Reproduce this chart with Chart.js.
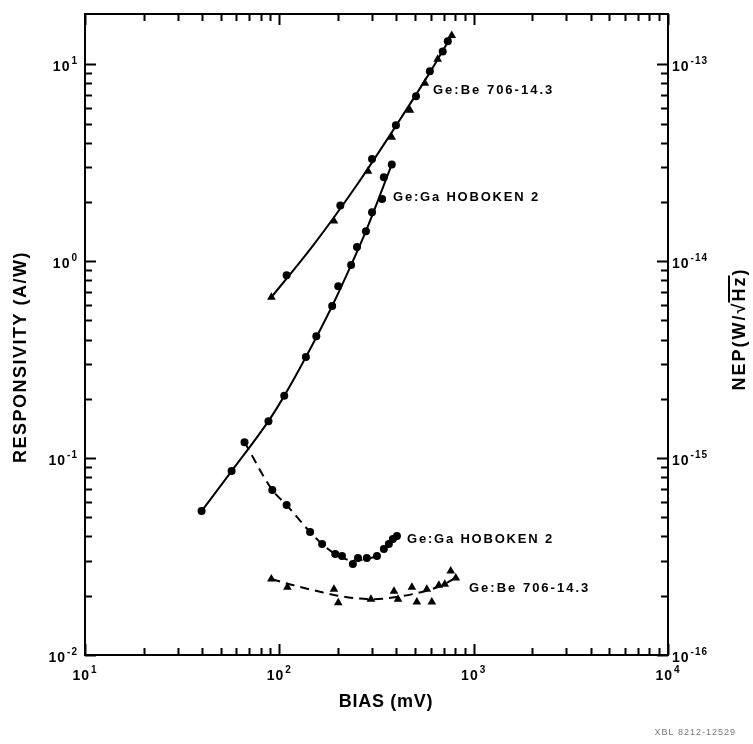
<!DOCTYPE html>
<html>
<head>
<meta charset="utf-8">
<script src="https://cdn.jsdelivr.net/npm/chart.js@4.4.1/dist/chart.umd.min.js"></script>
<style>
  html, body { margin: 0; padding: 0; background: #fff; }
  canvas { display: block; }
</style>
</head>
<body>
<canvas id="biasChart" width="753" height="744"></canvas>
<script>
// Ge:Be 706-14.3, responsivity (A/W): measured points and the solid curve
const biasGeBeResp = [91, 109, 191, 206, 286, 300, 379, 398, 470, 505, 561, 595, 653, 693, 736, 771];
const respGeBe = [0.656, 0.849, 1.60, 1.92, 2.86, 3.30, 4.26, 4.90, 5.84, 6.88, 8.01, 9.21, 10.6, 11.6, 13.1, 14.0];
const markGeBeResp = ['triangle', 'circle', 'triangle', 'circle', 'triangle', 'circle', 'triangle', 'circle',
                      'triangle', 'circle', 'triangle', 'circle', 'triangle', 'circle', 'circle', 'triangle'];
const biasGeBeRespCurve = [91, 150, 250, 400, 600, 771];
const respGeBeCurve = [0.656, 1.21, 2.43, 4.9, 9.2, 14.0];

// Ge:Ga HOBOKEN 2, responsivity (A/W)
const biasGeGaResp = [39.8, 56.8, 87.9, 106, 137, 155, 187, 201, 234, 251, 279, 300, 338, 345, 379];
const respGeGa = [0.0538, 0.0859, 0.154, 0.207, 0.326, 0.416, 0.592, 0.746, 0.955, 1.18, 1.42, 1.77, 2.07, 2.67, 3.10];
const biasGeGaRespCurve = [39.8, 56.8, 87.9, 106, 137, 187, 234, 279, 379];
const respGeGaCurve = [0.0538, 0.0859, 0.154, 0.207, 0.326, 0.592, 0.955, 1.42, 3.10];

// Ge:Ga HOBOKEN 2, NEP (W/sqrt(Hz))
const biasGeGaNep = [66.2, 92, 109, 144, 166, 194, 210, 239, 254, 282, 318, 345, 366, 384, 403];
const nepGeGa = [1.205e-15, 6.89e-16, 5.77e-16, 4.21e-16, 3.66e-16, 3.26e-16, 3.18e-16, 2.90e-16,
                 3.11e-16, 3.11e-16, 3.18e-16, 3.45e-16, 3.66e-16, 3.88e-16, 4.02e-16];
const biasGeGaNepCurve = [66.2, 92, 109, 144, 166, 200, 240, 282, 318, 345, 366, 403];
const nepGeGaCurve = [1.205e-15, 6.89e-16, 5.77e-16, 4.21e-16, 3.66e-16, 3.2e-16, 3.02e-16, 3.08e-16,
                      3.2e-16, 3.45e-16, 3.66e-16, 4.02e-16];

// Ge:Be 706-14.3, NEP
const biasGeBeNep = [91, 110, 191, 201, 296, 389, 408, 481, 510, 574, 609, 662, 710, 762, 809];
const nepGeBe = [2.43e-16, 2.21e-16, 2.16e-16, 1.84e-16, 1.92e-16, 2.11e-16, 1.92e-16, 2.21e-16,
                 1.86e-16, 2.16e-16, 1.86e-16, 2.26e-16, 2.29e-16, 2.67e-16, 2.46e-16];
const biasGeBeNepCurve = [91, 120, 160, 200, 250, 300, 400, 500, 600, 700, 800];
const nepGeBeCurve = [2.43e-16, 2.25e-16, 2.10e-16, 2.0e-16, 1.94e-16, 1.92e-16, 1.97e-16, 2.05e-16, 2.15e-16, 2.28e-16, 2.45e-16];

// axes: tick values and the exponents printed on them (10^n)
const xTickValues = [10, 100, 1000, 10000];
const xTickExp = ['1', '2', '3', '4'];
const yTickValues = [0.01, 0.1, 1, 10];
const yTickExp = ['-2', '-1', '0', '1'];
const y2TickValues = [1e-16, 1e-15, 1e-14, 1e-13];
const y2TickExp = ['-16', '-15', '-14', '-13'];

const FONT = '"Liberation Sans", "DejaVu Sans", sans-serif';

function pts(xs, ys) {
  return xs.map((v, i) => ({ x: v, y: ys[i] }));
}

function logMarks(min, max) {
  const out = [];
  for (let e = Math.floor(Math.log10(min)); e <= Math.ceil(Math.log10(max)); e++) {
    for (let m = 1; m < 10; m++) {
      const v = m * Math.pow(10, e);
      if (v >= min * 0.999 && v <= max * 1.001) out.push([v, m === 1]);
    }
  }
  return out;
}

// "10" with a raised exponent
function drawPow(ctx, exp, x, y, align) {
  ctx.letterSpacing = '1px';
  ctx.font = 'bold 14px ' + FONT;
  const wb = ctx.measureText('10').width;
  ctx.font = 'bold 10px ' + FONT;
  const we = ctx.measureText(exp).width;
  const total = wb + 1 + we;
  let sx = align === 'right' ? x - total : align === 'center' ? x - total / 2 : x;
  ctx.textAlign = 'left';
  ctx.textBaseline = 'alphabetic';
  ctx.font = 'bold 14px ' + FONT;
  ctx.fillText('10', sx, y);
  ctx.font = 'bold 10px ' + FONT;
  ctx.fillText(exp, sx + wb + 1, y - 7);
  ctx.letterSpacing = '0px';
}

const framePlugin = {
  id: 'frame',
  beforeDraw(chart) {
    const ctx = chart.ctx;
    ctx.save();
    ctx.fillStyle = '#fff';
    ctx.fillRect(0, 0, chart.width, chart.height);
    ctx.restore();
  },
  afterDraw(chart) {
    const { ctx, chartArea: a } = chart;
    const { x, y, y2 } = chart.scales;
    ctx.save();
    ctx.strokeStyle = '#000';
    ctx.lineWidth = 2;
    ctx.strokeRect(a.left, a.top, a.right - a.left, a.bottom - a.top);

    // inward tick marks on all four sides
    ctx.beginPath();
    logMarks(x.min, x.max).forEach(([v, major]) => {
      const px = Math.round(x.getPixelForValue(v)) + 0.5;
      const len = major ? 11 : 7;
      ctx.moveTo(px, a.bottom); ctx.lineTo(px, a.bottom - len);
      ctx.moveTo(px, a.top); ctx.lineTo(px, a.top + len);
    });
    logMarks(y.min, y.max).forEach(([v, major]) => {
      const py = Math.round(y.getPixelForValue(v)) + 0.5;
      ctx.moveTo(a.left, py); ctx.lineTo(a.left + (major ? 11 : 7), py);
    });
    logMarks(y2.min, y2.max).forEach(([v, major]) => {
      const py = Math.round(y2.getPixelForValue(v)) + 0.5;
      ctx.moveTo(a.right, py); ctx.lineTo(a.right - (major ? 11 : 7), py);
    });
    ctx.stroke();

    // tick labels
    ctx.fillStyle = '#000';
    xTickValues.forEach((v, i) => drawPow(ctx, xTickExp[i], x.getPixelForValue(v), a.bottom + 25, 'center'));
    yTickValues.forEach((v, i) => drawPow(ctx, yTickExp[i], a.left - 7, y.getPixelForValue(v) + 7, 'right'));
    y2TickValues.forEach((v, i) => drawPow(ctx, y2TickExp[i], a.right + 4, y2.getPixelForValue(v) + 7, 'left'));

    // curve labels
    ctx.font = 'bold 13px ' + FONT;
    ctx.textAlign = 'left';
    ctx.textBaseline = 'middle';
    ctx.letterSpacing = '2px';
    ctx.fillText('Ge:Be 706-14.3', 433, 90);
    ctx.fillText('Ge:Be 706-14.3', 469, 588);
    ctx.letterSpacing = '1.8px';
    ctx.fillText('Ge:Ga HOBOKEN 2', 393, 197);
    ctx.fillText('Ge:Ga HOBOKEN 2', 407, 539);

    // axis titles
    ctx.font = 'bold 18px ' + FONT;
    ctx.textAlign = 'center';
    ctx.letterSpacing = '0.7px';
    ctx.fillText('BIAS (mV)', 386, 702);

    ctx.save();
    ctx.translate(21, 357);
    ctx.rotate(-Math.PI / 2);
    ctx.letterSpacing = '1.5px';
    ctx.fillText('RESPONSIVITY (A/W)', 0, 0);
    ctx.restore();

    // NEP(W/√Hz) with an overline over Hz
    ctx.save();
    ctx.translate(740, 329);
    ctx.rotate(-Math.PI / 2);
    ctx.font = 'bold 18px ' + FONT;
    ctx.letterSpacing = '2px';
    const p1 = 'NEP(W/', p2 = '√', p3 = 'Hz', p4 = ')';
    const w1 = ctx.measureText(p1).width, w2 = ctx.measureText(p2).width;
    const w3 = ctx.measureText(p3).width, w4 = ctx.measureText(p4).width;
    let sx = -(w1 + w2 + w3 + w4) / 2;
    ctx.textAlign = 'left';
    ctx.fillText(p1, sx, 0); sx += w1;
    ctx.fillText(p2, sx, 0); sx += w2;
    ctx.fillText(p3, sx, 0);
    ctx.lineWidth = 2;
    ctx.beginPath();
    ctx.moveTo(sx - 1, -11); ctx.lineTo(sx + w3, -11);
    ctx.stroke();
    sx += w3;
    ctx.fillText(p4, sx, 0);
    ctx.restore();

    // archive number
    ctx.letterSpacing = '1px';
    ctx.font = '9px ' + FONT;
    ctx.fillStyle = '#777';
    ctx.textAlign = 'right';
    ctx.fillText('XBL 8212-12529', 736, 733);
    ctx.restore();
  }
};

const marks = {
  showLine: false,
  borderColor: '#000',
  backgroundColor: '#000',
  pointRadius: 4,
  pointBorderWidth: 0,
  pointBackgroundColor: '#000'
};

const curve = {
  showLine: true,
  borderColor: '#000',
  borderWidth: 2,
  pointRadius: 0,
  cubicInterpolationMode: 'monotone'
};

new Chart(document.getElementById('biasChart'), {
  type: 'scatter',
  data: {
    datasets: [
      Object.assign({}, curve, { label: 'Ge:Be 706-14.3 responsivity curve', data: pts(biasGeBeRespCurve, respGeBeCurve), yAxisID: 'y' }),
      Object.assign({}, marks, { label: 'Ge:Be 706-14.3 responsivity', data: pts(biasGeBeResp, respGeBe), pointStyle: markGeBeResp,
        pointRadius: markGeBeResp.map(s => s === 'triangle' ? 5 : 4), yAxisID: 'y' }),
      Object.assign({}, curve, { label: 'Ge:Ga HOBOKEN 2 responsivity curve', data: pts(biasGeGaRespCurve, respGeGaCurve), yAxisID: 'y' }),
      Object.assign({}, marks, { label: 'Ge:Ga HOBOKEN 2 responsivity', data: pts(biasGeGaResp, respGeGa), pointStyle: 'circle', yAxisID: 'y' }),
      Object.assign({}, curve, { label: 'Ge:Ga HOBOKEN 2 NEP curve', data: pts(biasGeGaNepCurve, nepGeGaCurve), borderDash: [9, 6], yAxisID: 'y2' }),
      Object.assign({}, marks, { label: 'Ge:Ga HOBOKEN 2 NEP', data: pts(biasGeGaNep, nepGeGa), pointStyle: 'circle', yAxisID: 'y2' }),
      Object.assign({}, curve, { label: 'Ge:Be 706-14.3 NEP curve', data: pts(biasGeBeNepCurve, nepGeBeCurve), borderDash: [9, 6], yAxisID: 'y2' }),
      Object.assign({}, marks, { label: 'Ge:Be 706-14.3 NEP', data: pts(biasGeBeNep, nepGeBe), pointStyle: 'triangle', pointRadius: 5, yAxisID: 'y2' })
    ]
  },
  options: {
    responsive: false,
    animation: false,
    devicePixelRatio: 1,
    layout: { padding: { top: 14, left: 0, right: 0, bottom: 0 } },
    plugins: {
      legend: { display: false },
      tooltip: { enabled: false }
    },
    scales: {
      x: {
        type: 'logarithmic',
        position: 'bottom',
        min: 10,
        max: 10000,
        border: { display: false },
        grid: { display: false, drawTicks: false },
        afterFit: (s) => { s.height = 89; },
        ticks: { display: false }
      },
      y: {
        type: 'logarithmic',
        position: 'left',
        min: 0.01,
        max: 18,
        border: { display: false },
        grid: { display: false, drawTicks: false },
        afterFit: (s) => { s.width = 85; },
        ticks: { display: false }
      },
      y2: {
        type: 'logarithmic',
        position: 'right',
        min: 1e-16,
        max: 1.8e-13,
        border: { display: false },
        grid: { display: false, drawTicks: false },
        afterFit: (s) => { s.width = 85; },
        ticks: { display: false }
      }
    }
  },
  plugins: [framePlugin]
});
</script>
</body>
</html>
